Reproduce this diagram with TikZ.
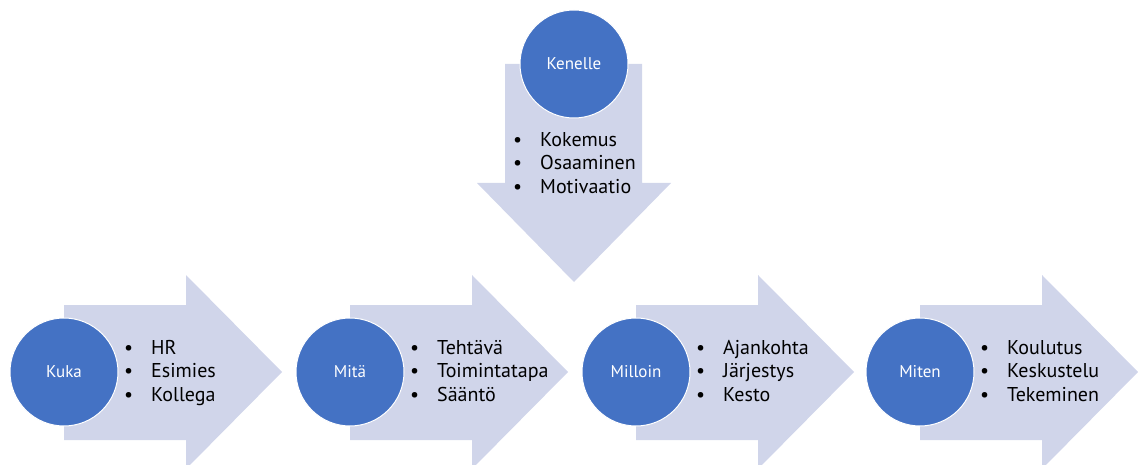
\documentclass[tikz,border=0pt]{standalone}
\usepackage{fontspec}
\setmainfont{PT Sans}
\definecolor{palloSin}{HTML}{4472C4}
\definecolor{nuoliVal}{HTML}{D0D5EA}
\tikzset{
  pallo/.style={circle, fill=palloSin, draw=white, line width=1pt,
    minimum size=108pt, inner sep=0pt, text=white, font=\fontsize{17}{19}\selectfont},
  lista/.style={anchor=north west, inner sep=0pt, align=left,
    font=\fontsize{20}{23.5}\selectfont},
  nuoli/.style={fill=nuoliVal, draw=none}
}
\newcommand{\kohta}{\makebox[27pt][l]{\textbullet}}
\begin{document}
\begin{tikzpicture}[x=1pt,y=-1pt]
    \useasboundingbox (0,0) rectangle (1138,465);
    \clip (0,0) rectangle (1138,465);
    % vaakanuolet
    \foreach \cx in {64,350,636,920} {
      \fill[nuoli] (\cx,305) -- (\cx+122,305) -- (\cx+122,275) -- (\cx+218,372)
        -- (\cx+122,469) -- (\cx+122,440) -- (\cx,440) -- cycle;
    }
    % pystynuoli
    \fill[nuoli] (505,64) -- (505,183) -- (477,183) -- (574,282)
        -- (671,183) -- (642,183) -- (642,64) -- cycle;
    \node[pallo] (kenelle) at (574,64) {Kenelle};
    \node[pallo] (kuka) at (64,372) {Kuka};
    \node[pallo] (mita) at (350,372) {Mitä};
    \node[pallo] (milloin) at (636,372) {Milloin};
    \node[pallo] (miten) at (920,372) {Miten};
    \node[lista] (kenelleL) at (513,132) {\kohta Kokemus\\\kohta Osaaminen\\\kohta Motivaatio};
    \node[lista] (kukaL) at (124,340) {\kohta HR\\\kohta Esimies\\\kohta Kollega};
    \node[lista] (mitaL) at (410,340) {\kohta Tehtävä\\\kohta Toimintatapa\\\kohta Sääntö};
    \node[lista] (milloinL) at (696,340) {\kohta Ajankohta\\\kohta Järjestys\\\kohta Kesto};
    \node[lista] (mitenL) at (980,340) {\kohta Koulutus\\\kohta Keskustelu\\\kohta Tekeminen};
\end{tikzpicture}
\end{document}
